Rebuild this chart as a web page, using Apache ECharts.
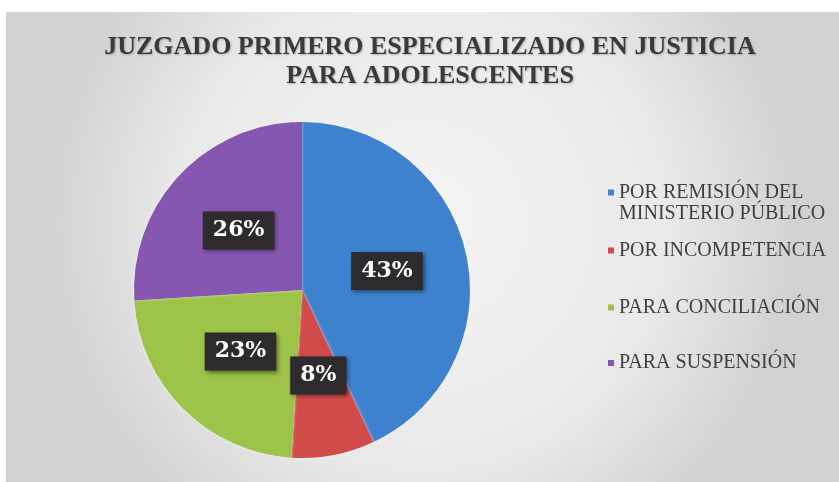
<!DOCTYPE html>
<html>
<head>
<meta charset="utf-8">
<script src="https://cdn.jsdelivr.net/npm/echarts@6/dist/echarts.min.js"></script>
<style>
  html, body { margin: 0; padding: 0; background: #fff; }
  #main { width: 839px; height: 482px; }
</style>
</head>
<body>
<div id="main"></div>
<script>
const titleLines = ["JUZGADO PRIMERO ESPECIALIZADO EN JUSTICIA", "PARA ADOLESCENTES"];
const categories = [
  "POR REMISIÓN DEL MINISTERIO PÚBLICO",
  "POR INCOMPETENCIA",
  "PARA CONCILIACIÓN",
  "PARA SUSPENSIÓN",
];
const values = [43, 8, 23, 26];
const colors = ["#3e82cf", "#d24b4b", "#9dc348", "#8657b0"];

const serif = "'Liberation Serif', 'Times New Roman', Times, serif";
const myChart = echarts.init(document.getElementById("main"));

// legend items sit at different heights, one legend per item
const legendCenters = [192.5, 250.5, 307.5, 363];
const legends = categories.map((name, i) => {
  const twoLines = i === 0;
  return {
    data: [name],
    orient: "vertical",
    left: 608,
    top: twoLines ? legendCenters[i] - 31.5 : legendCenters[i] - 10.5,
    padding: 0,
    icon: "rect",
    itemWidth: 6,
    itemHeight: 6,
    selectedMode: false,
    // empty first line keeps the marker next to the first text line
    formatter: (n) => (twoLines ? "\n" + n.replace(" DEL ", " DEL\n") : n),
    textStyle: {
      fontFamily: serif,
      fontSize: 20,
      lineHeight: 21,
      color: "#404040",
    },
  };
});

let option = {
  animation: false,
  color: colors,
  graphic: [
    {
      type: "rect",
      z: -10,
      silent: true,
      shape: { x: 6, y: 12, width: 833, height: 470 },
      style: {
        fill: new echarts.graphic.RadialGradient(0.5, 0.45, 0.8, [
          { offset: 0, color: "#f4f4f4" },
          { offset: 0.65, color: "#e9e9e9" },
          { offset: 1, color: "#d2d2d2" },
        ]),
      },
    },
  ],
  title: {
    text: titleLines.join("\n"),
    left: 430,
    textAlign: "center",
    top: 33,
    padding: 0,
    textStyle: {
      fontFamily: serif,
      fontWeight: "bold",
      fontSize: 26,
      lineHeight: 29,
      color: "#3a3a3a",
      textShadowColor: "rgba(0,0,0,0.25)",
      textShadowBlur: 2,
      textShadowOffsetX: 1,
      textShadowOffsetY: 1,
    },
  },
  legend: legends,
  series: [
    {
      type: "pie",
      center: [302, 290],
      radius: 168,
      startAngle: 90,
      clockwise: true,
      silent: true,
      data: categories.map((name, i) => ({ name: name, value: values[i] })),
      label: {
        show: true,
        position: "inside",
        formatter: "{c}%",
        fontFamily: "DejaVu Serif",
        fontWeight: "bold",
        fontSize: 22,
        lineHeight: 22,
        color: "#fff",
        backgroundColor: "#2e2b2f",
        padding: [8, 10],
        shadowColor: "rgba(0,0,0,0.45)",
        shadowBlur: 4,
        shadowOffsetX: 2,
        shadowOffsetY: 2,
      },
      labelLine: { show: false },
      itemStyle: {
        shadowColor: "rgba(255,255,255,0.6)",
        shadowBlur: 3,
      },
    },
  ],
};
myChart.setOption(option);
</script>
</body>
</html>
